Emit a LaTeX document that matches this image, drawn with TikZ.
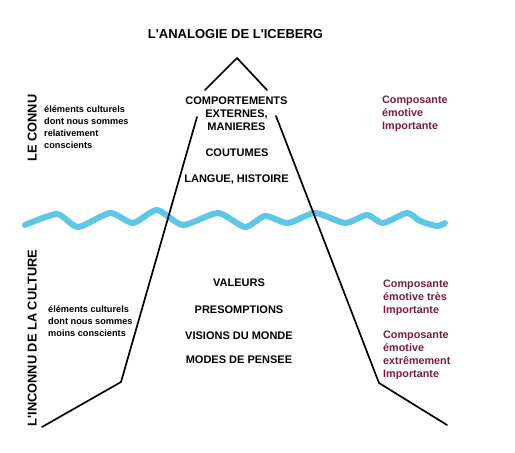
\documentclass[tikz,border=0pt]{standalone}
\usepackage{fontspec}
\setmainfont{Liberation Sans}
\definecolor{wavecol}{RGB}{92,200,230}
\definecolor{emocol}{RGB}{122,30,62}
\begin{document}
\begin{tikzpicture}[x=1pt,y=-1pt,
  capstext/.style={font=\fontsize{11}{13}\selectfont\bfseries, inner sep=0pt, align=center, text height=7.9pt, text depth=0pt},
  capsblock/.style={font=\fontsize{11}{13}\selectfont\bfseries, inner sep=0pt, align=center, anchor=north},
  sidetext/.style={font=\fontsize{9.2}{12}\selectfont\bfseries, inner sep=0pt, align=left, anchor=north west},
  emotext/.style={font=\fontsize{10.8}{13}\selectfont\bfseries, text=emocol, inner sep=0pt, align=left, anchor=north west},
  verttext/.style={font=\fontsize{12.8}{14}\selectfont\bfseries, rotate=90, inner sep=0pt, text height=9.2pt, text depth=0pt},
  titletext/.style={font=\fontsize{13}{15}\selectfont\bfseries, inner sep=0pt, text height=9.3pt, text depth=0pt},
  ice/.style={line width=1.7pt, line join=round, line cap=round},
  water/.style={line width=6pt, wavecol, line cap=round, line join=round}]
\useasboundingbox (0,0) rectangle (515,453);
\fill[white] (0,0) rectangle (515,453);

% water line
\draw[water] plot[smooth, tension=0.4] coordinates {
 (25,225) (57,214) (78,227) (110,213) (133,223) (157,210) (183,225)
 (218,213) (245,227) (265,216) (288,223) (315,213) (345,223) (367,215)
 (383,223) (407,213) (420,221) (437,226) (445,223)};

% iceberg
\coordinate (peak) at (237,58);
\coordinate (peakL) at (205,90);
\coordinate (peakR) at (267,90);
\coordinate (lt) at (197,117);
\coordinate (lk) at (121,382);
\coordinate (le) at (42,427);
\coordinate (rt) at (276,116);
\coordinate (rk) at (379,383);
\coordinate (re) at (447,425);
\draw[ice] (peakL) -- (peak) -- (peakR);
\draw[ice] (lt) -- (lk) -- (le);
\draw[ice] (rt) -- (rk) -- (re);

% title
\node[titletext] (title) at (235.5,34) {L\textquotesingle ANALOGIE DE L\textquotesingle ICEBERG};

% vertical labels
\node[verttext] (connu) at (32,128) {LE CONNU};
\node[verttext] (inconnu) at (32,338) {L\textquotesingle INCONNU DE LA CULTURE};

% left descriptions
\node[sidetext] (desc1) at (44,106) {éléments culturels\\dont nous sommes\\relativement\\conscients};
\node[sidetext] (desc2) at (48,306) {éléments culturels\\dont nous sommes\\moins conscients};

% centre texts
\node[capsblock] (comp) at (236.5,97) {COMPORTEMENTS\\EXTERNES,\\MANIERES};
\node[capstext] (cout) at (237,153) {COUTUMES};
\node[capstext] (lang) at (236.5,179) {LANGUE, HISTOIRE};
\node[capstext] (val) at (239,283) {VALEURS};
\node[capstext] (pres) at (239,310) {PRESOMPTIONS};
\node[capstext] (vis) at (239,336) {VISIONS DU MONDE};
\node[capstext] (modes) at (239,360) {MODES DE PENSEE};

% right emotional components
\node[emotext] (emo1) at (382,96) {Composante\\émotive\\Importante};
\node[emotext] (emo2) at (383,280) {Composante\\émotive très\\Importante};
\node[emotext] (emo3) at (383,331) {Composante\\émotive\\extrêmement\\Importante};
\end{tikzpicture}
\end{document}
